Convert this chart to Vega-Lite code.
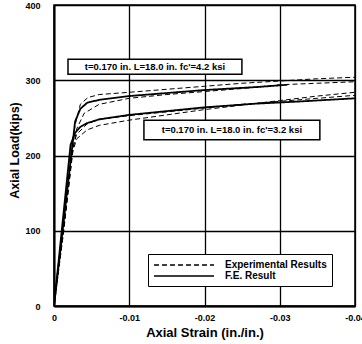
{
  "$schema": "https://vega.github.io/schema/vega-lite/v6.json",
  "width": 301,
  "height": 301,
  "autosize": {"type": "none"},
  "padding": {"left": 54, "top": 5, "right": 7, "bottom": 38},
  "background": "white",
  "config": {
    "view": {"stroke": "black", "strokeWidth": 1.5},
    "font": "Liberation Sans",
    "axis": {
      "labelFont": "Liberation Sans",
      "labelFontWeight": "bold",
      "labelFontSize": 9,
      "labelColor": "black",
      "titleFont": "Liberation Sans",
      "titleFontWeight": "bold",
      "titleColor": "black",
      "domainColor": "black",
      "domainWidth": 2,
      "gridColor": "black",
      "gridWidth": 1.3,
      "tickColor": "black",
      "tickWidth": 1.2,
      "tickSize": -5
    }
  },
  "datasets": {
    "curves": [
      {"curve": "FE-4.2", "type": "F.E. Result", "strain": 0, "load": 0},
      {"curve": "FE-4.2", "type": "F.E. Result", "strain": -0.0025, "load": 218},
      {"curve": "FE-4.2", "type": "F.E. Result", "strain": -0.0028, "load": 245},
      {"curve": "FE-4.2", "type": "F.E. Result", "strain": -0.0035, "load": 262},
      {"curve": "FE-4.2", "type": "F.E. Result", "strain": -0.0044, "load": 270},
      {"curve": "FE-4.2", "type": "F.E. Result", "strain": -0.006, "load": 274},
      {"curve": "FE-4.2", "type": "F.E. Result", "strain": -0.01, "load": 279},
      {"curve": "FE-4.2", "type": "F.E. Result", "strain": -0.015, "load": 283},
      {"curve": "FE-4.2", "type": "F.E. Result", "strain": -0.02, "load": 287},
      {"curve": "FE-4.2", "type": "F.E. Result", "strain": -0.027, "load": 291},
      {"curve": "FE-4.2", "type": "F.E. Result", "strain": -0.031, "load": 294},
      {"curve": "FE-3.2", "type": "F.E. Result", "strain": 0, "load": 0},
      {"curve": "FE-3.2", "type": "F.E. Result", "strain": -0.0022, "load": 214},
      {"curve": "FE-3.2", "type": "F.E. Result", "strain": -0.0028, "load": 230},
      {"curve": "FE-3.2", "type": "F.E. Result", "strain": -0.0035, "load": 238},
      {"curve": "FE-3.2", "type": "F.E. Result", "strain": -0.0044, "load": 243},
      {"curve": "FE-3.2", "type": "F.E. Result", "strain": -0.006, "load": 248},
      {"curve": "FE-3.2", "type": "F.E. Result", "strain": -0.01, "load": 254},
      {"curve": "FE-3.2", "type": "F.E. Result", "strain": -0.015, "load": 259},
      {"curve": "FE-3.2", "type": "F.E. Result", "strain": -0.02, "load": 264},
      {"curve": "FE-3.2", "type": "F.E. Result", "strain": -0.027, "load": 269},
      {"curve": "FE-3.2", "type": "F.E. Result", "strain": -0.033, "load": 272},
      {"curve": "FE-3.2", "type": "F.E. Result", "strain": -0.04, "load": 276},
      {"curve": "EXP-4.2a", "type": "Experimental Results", "strain": 0, "load": 0},
      {"curve": "EXP-4.2a", "type": "Experimental Results", "strain": -0.0012, "load": 100},
      {"curve": "EXP-4.2a", "type": "Experimental Results", "strain": -0.0022, "load": 200},
      {"curve": "EXP-4.2a", "type": "Experimental Results", "strain": -0.0028, "load": 240},
      {"curve": "EXP-4.2a", "type": "Experimental Results", "strain": -0.0035, "load": 268},
      {"curve": "EXP-4.2a", "type": "Experimental Results", "strain": -0.0045, "load": 277},
      {"curve": "EXP-4.2a", "type": "Experimental Results", "strain": -0.006, "load": 281},
      {"curve": "EXP-4.2a", "type": "Experimental Results", "strain": -0.01, "load": 284},
      {"curve": "EXP-4.2a", "type": "Experimental Results", "strain": -0.015, "load": 288},
      {"curve": "EXP-4.2a", "type": "Experimental Results", "strain": -0.02, "load": 292},
      {"curve": "EXP-4.2a", "type": "Experimental Results", "strain": -0.025, "load": 296},
      {"curve": "EXP-4.2a", "type": "Experimental Results", "strain": -0.03, "load": 299},
      {"curve": "EXP-4.2a", "type": "Experimental Results", "strain": -0.035, "load": 302},
      {"curve": "EXP-4.2a", "type": "Experimental Results", "strain": -0.04, "load": 304},
      {"curve": "EXP-4.2b", "type": "Experimental Results", "strain": 0, "load": 0},
      {"curve": "EXP-4.2b", "type": "Experimental Results", "strain": -0.0013, "load": 100},
      {"curve": "EXP-4.2b", "type": "Experimental Results", "strain": -0.0024, "load": 200},
      {"curve": "EXP-4.2b", "type": "Experimental Results", "strain": -0.003, "load": 235},
      {"curve": "EXP-4.2b", "type": "Experimental Results", "strain": -0.004, "load": 256},
      {"curve": "EXP-4.2b", "type": "Experimental Results", "strain": -0.006, "load": 268},
      {"curve": "EXP-4.2b", "type": "Experimental Results", "strain": -0.01, "load": 276},
      {"curve": "EXP-4.2b", "type": "Experimental Results", "strain": -0.015, "load": 281},
      {"curve": "EXP-4.2b", "type": "Experimental Results", "strain": -0.02, "load": 285},
      {"curve": "EXP-4.2b", "type": "Experimental Results", "strain": -0.025, "load": 289},
      {"curve": "EXP-4.2b", "type": "Experimental Results", "strain": -0.03, "load": 294},
      {"curve": "EXP-4.2b", "type": "Experimental Results", "strain": -0.035, "load": 296},
      {"curve": "EXP-4.2b", "type": "Experimental Results", "strain": -0.04, "load": 298},
      {"curve": "EXP-3.2a", "type": "Experimental Results", "strain": 0, "load": 0},
      {"curve": "EXP-3.2a", "type": "Experimental Results", "strain": -0.0012, "load": 95},
      {"curve": "EXP-3.2a", "type": "Experimental Results", "strain": -0.0025, "load": 205},
      {"curve": "EXP-3.2a", "type": "Experimental Results", "strain": -0.003, "load": 222},
      {"curve": "EXP-3.2a", "type": "Experimental Results", "strain": -0.0044, "load": 234},
      {"curve": "EXP-3.2a", "type": "Experimental Results", "strain": -0.006, "load": 240},
      {"curve": "EXP-3.2a", "type": "Experimental Results", "strain": -0.01, "load": 247},
      {"curve": "EXP-3.2a", "type": "Experimental Results", "strain": -0.015, "load": 254},
      {"curve": "EXP-3.2a", "type": "Experimental Results", "strain": -0.02, "load": 261},
      {"curve": "EXP-3.2a", "type": "Experimental Results", "strain": -0.025, "load": 267},
      {"curve": "EXP-3.2a", "type": "Experimental Results", "strain": -0.03, "load": 273},
      {"curve": "EXP-3.2a", "type": "Experimental Results", "strain": -0.035, "load": 279},
      {"curve": "EXP-3.2a", "type": "Experimental Results", "strain": -0.04, "load": 284},
      {"curve": "EXP-3.2b", "type": "Experimental Results", "strain": 0, "load": 0},
      {"curve": "EXP-3.2b", "type": "Experimental Results", "strain": -0.0012, "load": 95},
      {"curve": "EXP-3.2b", "type": "Experimental Results", "strain": -0.0025, "load": 210},
      {"curve": "EXP-3.2b", "type": "Experimental Results", "strain": -0.003, "load": 228},
      {"curve": "EXP-3.2b", "type": "Experimental Results", "strain": -0.0044, "load": 242},
      {"curve": "EXP-3.2b", "type": "Experimental Results", "strain": -0.006, "load": 248},
      {"curve": "EXP-3.2b", "type": "Experimental Results", "strain": -0.01, "load": 253},
      {"curve": "EXP-3.2b", "type": "Experimental Results", "strain": -0.015, "load": 258},
      {"curve": "EXP-3.2b", "type": "Experimental Results", "strain": -0.02, "load": 263},
      {"curve": "EXP-3.2b", "type": "Experimental Results", "strain": -0.025, "load": 268},
      {"curve": "EXP-3.2b", "type": "Experimental Results", "strain": -0.03, "load": 272},
      {"curve": "EXP-3.2b", "type": "Experimental Results", "strain": -0.035, "load": 276},
      {"curve": "EXP-3.2b", "type": "Experimental Results", "strain": -0.04, "load": 280}
    ],
    "notes": [
      {"label": "t=0.170 in.  L=18.0 in. fc'=4.2 ksi", "s1": -0.00186, "s2": -0.02497, "l1": 308, "l2": 328, "sc": -0.01342, "lc": 318},
      {"label": "t=0.170 in.  L=18.0 in. fc'=3.2 ksi", "s1": -0.01195, "s2": -0.03533, "l1": 221, "l2": 247, "sc": -0.02364, "lc": 234}
    ]
  },
  "layer": [
    {
      "data": {"name": "curves"},
      "transform": [{"filter": "datum.type == 'Experimental Results'"}],
      "mark": {"type": "line", "color": "black", "strokeWidth": 1, "clip": true},
      "encoding": {
        "x": {
          "field": "strain", "type": "quantitative",
          "scale": {"domain": [0, -0.04], "nice": false, "zero": false},
          "axis": {
            "title": "Axial Strain (in./in.)",
            "titleFontSize": 13,
            "titlePadding": 4,
            "values": [0, -0.005, -0.01, -0.015, -0.02, -0.025, -0.03, -0.035, -0.04],
            "labelExpr": "round(abs(datum.value) * 1000) % 10 != 0 ? '' : (datum.value == 0 ? '0' : '-' + format(abs(datum.value), '.2f'))",
            "labelPadding": 12,
            "labelFlush": false,
            "labelOverlap": false,
            "gridOpacity": {"condition": {"test": "round(abs(datum.value) * 1000) % 10 == 0", "value": 1}, "value": 0},
            "tickOpacity": {"condition": {"test": "round(abs(datum.value) * 1000) % 10 == 0", "value": 0}, "value": 1}
          }
        },
        "y": {
          "field": "load", "type": "quantitative",
          "scale": {"domain": [0, 400], "nice": false},
          "axis": {
            "title": "Axial  Load(kips)",
            "titleFontSize": 12.5,
            "titlePadding": 3,
            "titleY": 145,
            "values": [0, 50, 100, 150, 200, 250, 300, 350, 400],
            "labelExpr": "datum.value % 100 == 0 ? datum.label : ''",
            "labelPadding": 19,
            "labelFlush": false,
            "labelOverlap": false,
            "gridOpacity": {"condition": {"test": "datum.value % 100 == 0", "value": 1}, "value": 0},
            "tickOpacity": {"condition": {"test": "datum.value % 100 == 0", "value": 0}, "value": 1}
          }
        },
        "detail": {"field": "curve"},
        "strokeDash": {
          "field": "type", "type": "nominal",
          "scale": {"domain": ["Experimental Results", "F.E. Result"], "range": [[5, 3], [1, 0]]},
          "legend": {
            "title": null,
            "orient": "none",
            "legendX": 94,
            "legendY": 249,
            "strokeColor": "black",
            "fillColor": "white",
            "padding": 5,
            "symbolType": "M-1,0H11",
            "symbolSize": 100,
            "symbolStrokeWidth": 1.4,
            "symbolStrokeColor": "black",
            "labelOffset": 60,
            "labelFont": "Liberation Sans",
            "labelFontWeight": "bold",
            "labelFontSize": 10,
            "labelColor": "black",
            "rowPadding": 0
          }
        }
      }
    },
    {
      "data": {"name": "curves"},
      "transform": [{"filter": "datum.type == 'F.E. Result'"}],
      "mark": {"type": "line", "color": "black", "strokeWidth": 1.8, "clip": true},
      "encoding": {
        "x": {"field": "strain", "type": "quantitative"},
        "y": {"field": "load", "type": "quantitative"},
        "detail": {"field": "curve"},
        "strokeDash": {"field": "type", "type": "nominal"}
      }
    },
    {
      "data": {"name": "notes"},
      "mark": {"type": "rect", "fill": "white", "stroke": "black", "strokeWidth": 1.5},
      "encoding": {
        "x": {"field": "s1", "type": "quantitative"},
        "x2": {"field": "s2"},
        "y": {"field": "l1", "type": "quantitative"},
        "y2": {"field": "l2"}
      }
    },
    {
      "data": {"name": "notes"},
      "mark": {"type": "text", "font": "Liberation Sans", "fontWeight": "bold", "fontSize": 9.5, "color": "black", "baseline": "middle", "align": "center"},
      "encoding": {
        "x": {"field": "sc", "type": "quantitative"},
        "y": {"field": "lc", "type": "quantitative"},
        "text": {"field": "label"}
      }
    }
  ]
}
